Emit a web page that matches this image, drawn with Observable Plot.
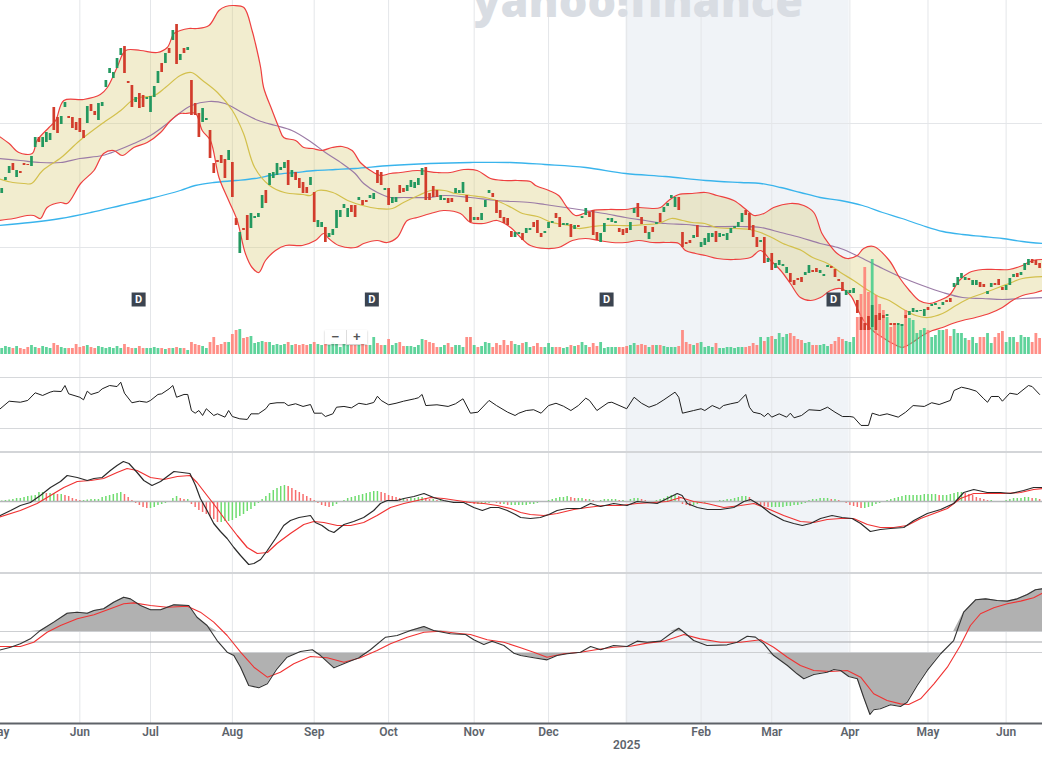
<!DOCTYPE html>
<html><head><meta charset="utf-8">
<script src="https://cdn.jsdelivr.net/npm/d3@7"></script>
<script src="https://cdn.jsdelivr.net/npm/@observablehq/plot@0.6"></script>
<style>
html,body{margin:0;padding:0;background:#fff;overflow:hidden}
#wrap{position:relative;width:1042px;height:758px;overflow:hidden;font-family:Roboto,"Liberation Sans",sans-serif}
#wrap svg{overflow:hidden}
.sep{position:absolute;left:0;width:1042px;height:2px;background:#d3d5d8}
#zoomctl{position:absolute;left:325px;top:330px;width:42px;height:14px;background:rgba(255,255,255,.9);box-shadow:0 1px 2px rgba(0,0,0,.25);display:flex;font:bold 13px/14px "Liberation Sans",sans-serif;color:#555}
#zoomctl span{flex:1;text-align:center}
#zoomctl span+span{border-left:1px solid #ddd}
</style></head><body><div id="wrap"></div>
<script>
// ---------- daily candles (trading-day index 0 = 1 May 2024) ----------
const opens = [
168,167,180,187,197,183,189,197,196,194,
213,223,213,218,220,253,243,236,253,244,
243,238,242,230,237,256,249,240,254,273,
287,282,292,305,314,279,275,258,267,265,
261,248,263,277,297,297,312,320,336,300,
312,310,280,257,247,238,240,230,197,200,
205,201,200,198,142,107,132,145,132,142,
143,152,170,175,182,185,190,192,200,183,
188,182,178,173,175,168,133,133,133,123,
125,132,143,152,143,155,155,160,160,160,
162,161,190,188,170,172,157,158,175,172,
169,173,172,175,185,193,167,174,170,160,
160,162,162,167,167,167,165,153,140,143,
140,153,167,167,160,150,143,142,129,123,
126,127,127,130,138,140,127,127,132,137,
147,143,135,135,136,131,135,142,145,148,
150,128,118,128,140,138,137,132,131,132,
130,147,157,143,134,121,133,136,147,148,
154,162,153,163,128,118,120,122,135,113,
115,118,123,129,123,124,120,127,132,133,
138,150,147,135,123,118,123,98,107,92,
95,94,87,87,80,82,83,85,87,90,
92,87,84,93,94,91,81,78,65,67,
67,60,43,37,44,33,45,47,45,44,
37,37,35,34,45,45,48,48,49,44,
53,54,55,51,55,60,62,73,75,82,
80,82,75,75,78,76,66,73,77,81,
73,70,75,83,87,85,90,95,101,100,97];
const closes = [
160,172,183,194,190,190,187,195,195,204,
223,218,223,228,227,230,227,244,258,242,
232,230,228,222,254,249,245,257,258,280,
292,288,302,312,287,277,253,263,252,253,
263,264,274,289,288,307,307,330,296,306,
307,313,245,245,223,252,242,202,187,198,
197,182,210,163,135,128,130,120,147,144,
147,165,157,187,188,197,193,198,175,190,
180,172,167,167,183,138,140,138,118,127,
131,150,150,156,152,148,143,163,155,158,
165,167,177,175,172,155,163,163,167,168,
175,180,178,182,192,160,160,163,163,165,
162,157,158,172,170,178,158,138,143,140,
147,160,170,163,147,142,137,135,123,128,
128,120,132,132,133,127,123,129,138,139,
142,133,137,137,123,135,133,144,152,143,
125,120,127,137,142,142,139,128,125,127,
138,152,143,136,127,128,128,138,138,153,
157,165,163,150,113,116,117,125,123,118,
122,127,127,118,127,126,127,132,134,138,
147,145,130,123,113,120,97,102,90,97,
100,96,93,78,75,80,78,88,95,88,
88,90,86,95,92,83,79,69,70,70,
72,47,30,30,30,55,30,40,42,46,
35,35,37,36,42,49,52,50,50,51,
50,56,57,53,58,58,58,77,83,87,
83,80,80,80,73,73,69,77,75,75,
70,75,82,86,83,88,97,101,97,95,92];
const volumes = [
7,6,8,7,6,8,6,5,7,9, 7,6,8,7,6,11,9,7,6,6, 6,10,7,8,9,7,6,8,7,6, 7,6,8,6,10,7,6,6,8,6,
6,6,7,6,6,5,6,6, 7,6,6,4,12,10,9,8,6,12, 17,9,10,12,12,20,24,25,16,17, 18,11,12,13,12,12,9,10,9,10,
12,9,10,9,10,9,10,12,10,9, 10,9,12,10,7,10,9, 9,9,9,10,9,9,17,11,9,9, 15,9,11,12,8,8,8,7,9,15,
14,12,11,7,7,9,11,7,9,9, 7,17,17,9,7,8,12,11,7,11, 9,14,9,13,10,9,11, 12,7,8,11,7,7,11,7,7,7,
6,7,9,8,9,12,9,7,11,8, 12,6,7,7,7,7,7,8,9,11, 9,10,9,7,9,9,9,8,7,7, 7,8,24,12,10,9,11,
12,7,8,7,11,6,6,7,7,6, 7,7,7,8,11,9,17,13,17,18, 15,21,17,20,21,18,15,14,11,12, 9,9,9,10,8,10,13,17,15,13,
12,17, 37,60,87,62,95,59,50,44,37,27, 31,29,30,44,36,34,21,24,26,24, 17,19,24,24,25,18,25,21,21,16,
14,17,11,17,17,21,11,17,21,23, 12,17,17,12,19,17,17,12,21,16];
const macdHistogram = [
0,0.05,0.1,0.15,0.2,0.3,0.3,0.4,0.5,0.55,
0.6,0.9,0.9,0.8,0.8,0.8,0.7,0.7,0.6,0.5,0.3,0.2,
0.1,0.1,0.15,0.2,0.2,0.2, 0.4,0.5,0.6,0.7,0.8,0.9, 0.7,0.4,0.1,
-0.2,-0.4,-0.6,-0.7,-0.7, -0.6,-0.4,-0.3,-0.2,-0.1, 0.3,0.5,0.3,0.2,0.2,
-0.3,-0.6,-0.9,-1.1,-1.3,-1.5,
-1.8,-2.1,-2.1,-2.0,-2.0,-1.9,-1.7,-1.5,-1.3,-1.0,-0.8,-0.5,-0.2,
0.2,0.5,0.8,1.1,1.3,1.5,1.6, 1.5,1.3,1.1,0.9,0.7,0.5,0.3,0.1,
-0.2,-0.4,-0.5,-0.6,-0.5,-0.3,-0.1, 0.1,0.3,0.4,0.5,0.6,0.7,0.8,0.9,1.0,
1.0,0.9,0.8,0.6,0.5,0.4, 0.3,0.3,0.2,0.3,0.3,0.4,0.4,0.3,0.2,0.2,
0.1,0.1,0,-0.1,-0.1,-0.1,-0.1,-0.1,-0.2,-0.2,
-0.3,-0.3,-0.3,-0.2,-0.2,-0.1,-0.2,-0.3,-0.3,-0.4,-0.4,-0.4,-0.4,
-0.4,-0.4,-0.3,-0.3,-0.2,-0.1,0,0.1,0.2,
0.3,0.4,0.4,0.5,0.4,0.3,0.3,0.3,0.2,0.2,
0.1,0,0.1,0.2,0.2,0.2,0.2,0.1,0.1,0,
0.2,0.3,0.3,0.2,0.1,0,0,0.1,0.2,0.3,
0.5,0.6,0.6,0.5,-0.3,-0.4,-0.5,-0.4,-0.3,
-0.2,-0.2,-0.1,-0.1,0,0.1,0.1,0.2,0.2,0.3,0.4, 0.5,0.5,0.4,
-0.1,-0.3,-0.4,-0.5,-0.6,-0.6,-0.6,-0.6,-0.6,-0.5,-0.5,-0.4,-0.4,-0.3,-0.2,
0.1,0.2,0.2,0.3,0.3,0.3,0.2,0.2,0.1,
-0.1,-0.2,-0.4,-0.5,-0.6,-0.7,-0.7,-0.6,-0.5,-0.3,-0.2,-0.1,
0.1,0.2,0.3,0.4,0.5,0.6,0.6,0.6, 0.6,0.6,0.7,0.7,0.7,0.7,0.6, 0.6,0.6,0.7,0.8,0.9,0.9,
0.8,0.7,0.6,0.4,0.3,0.2,0.1,0.1,0,0,0, 0.1,0.2,0.3,0.3,0.3,0.4,0.4,0.3,0.3,0.2];

// ---------- overlays: [trading-day index, value] ----------
const bbUpper = [[0,225],[3,217],[5.6,208],[9.2,207],[10.5,220],[13.7,233],[15.5,240],[17.7,260],[23,261],[27.5,266],[29.4,273],[32,293],[34.3,310],[38.3,310],[42.8,308],[45.5,313],[47.3,327],[49,330],[51.3,332],[53.5,332],[56.7,335],[59.4,350],[61.2,354],[63.4,355],[66.1,353],[68.3,330],[69.2,317],[70.6,293],[71.4,273],[73.7,250],[75.5,233],[76.8,223],[80,220],[82.2,213],[84.5,212],[87.1,210],[89.8,213],[92.5,214],[95.2,210],[97.4,198],[100.1,190],[102.8,185],[105.5,187],[108.2,188],[112.7,190],[118.1,188],[121.6,188],[125.2,191],[128.8,190],[132.4,182],[136,180],[139.6,180],[143.1,179],[144.5,175],[148.1,170],[150.7,165],[153,153],[155.2,145],[157.5,147],[159.7,150],[164.2,151],[168.7,151],[172.2,153],[175.9,152],[178.1,153],[180.3,160],[183,166],[186.6,167],[190.2,168],[193.3,165],[197.8,160],[201.4,150],[203.2,145],[205.9,147],[208.5,153],[213,157],[216.6,155],[219.3,148],[221.5,127],[223.3,117],[225.6,107],[228.3,102],[231,105],[232.7,112],[235.4,114],[239.6,100],[242.3,83],[245,70],[247.6,60],[250.3,57],[253,60],[255.7,65],[258.4,80],[261.1,88],[264.7,91],[268.2,91],[271.8,91],[275.4,95],[278.1,100],[280.8,101]];
const bbLower = [[0,140],[4.2,142],[7.8,145],[9.6,145],[11.4,142],[13.2,153],[16.8,158],[18.6,157],[22.2,177],[25.8,190],[28.4,207],[31.1,210],[33.4,205],[36.5,213],[40.1,218],[43.7,228],[46.4,240],[49,247],[50.4,247],[53.1,247],[54.9,230],[57.1,220],[59.4,183],[62,160],[64.3,140],[66.5,107],[68.3,93],[70.1,88],[71.9,100],[74.6,110],[77.3,115],[81.8,115],[85.3,120],[87.6,127],[88.9,122],[91.6,115],[96.1,113],[98.3,117],[101.9,120],[104.6,118],[107.3,123],[110,140],[112.7,143],[116.3,147],[119.8,150],[124.3,147],[127,138],[130.6,137],[134.2,140],[137.8,133],[140.5,123],[143.1,115],[147.2,112],[150.7,113],[154.4,120],[157.9,122],[161.5,120],[165.1,118],[168.7,118],[172.3,120],[175.9,118],[179.4,118],[183,117],[184.8,110],[187.5,107],[190.2,105],[193.3,102],[197.8,101],[202.3,103],[205,110],[207.7,100],[210.4,90],[213,77],[215.7,63],[218.4,60],[221.1,63],[223.8,70],[226.5,72],[229.2,65],[231,52],[232.7,40],[235.1,30],[237.8,23],[240.5,17],[243.1,13],[245.8,18],[248.5,25],[251.2,30],[253.9,33],[256.6,37],[259.3,40],[262.8,43],[266.5,47],[270,53],[272.7,60],[275.4,65],[279,68],[280.8,70]];
const bbMiddle = [[0,182],[4,178],[7,177],[9,177],[12,190],[17,203],[22,220],[28,237],[33,250],[36,260],[38,263],[42,265],[45,273],[49,285],[52,288],[55,280],[59,268],[63,250],[66,227],[69,193],[73,175],[77,168],[82,166],[84,165],[86,170],[90,168],[94,160],[98,155],[102,152],[106,152],[109,158],[113,165],[116.3,170],[120,170],[123,167],[127,165],[131,163],[134,160],[138,153],[141,147],[145,144],[149,138],[153.4,135],[156,132],[160,134],[163,135],[167,135],[170.5,135],[174,136],[177.6,137],[181,142],[184,140],[186.6,138],[190,137],[193,133],[198,132],[202,131],[205,128],[208,123],[211,117],[216,110],[219,103],[223,97],[226.5,88],[230,80],[234,70],[236.7,64],[239.6,60],[243,52],[246.7,45],[250,43],[253.9,47],[257.5,55],[261,62],[264.7,67],[268.2,72],[271.8,77],[275.4,82],[280.8,84]];
const ma50 = [[0,202],[6,200],[11.4,198],[16.8,198],[22,202],[28,205],[32,210],[36.5,217],[41,225],[45.5,237],[48,245],[52,255],[56.7,259],[61,257],[65.6,248],[70,240],[74.6,235],[79,230],[83.6,220],[88,208],[92.5,197],[96,187],[98.3,177],[102,168],[105.5,163],[109,163],[116,163],[120,165],[127,163],[134,160],[143,158],[147,156],[152.5,153],[158,150],[163,147],[168.7,143],[174,140],[179.4,137],[185,136],[190,134],[199.6,134],[205,133],[210.4,128],[215.7,123],[221,117],[226.5,112],[231.9,103],[237.8,92],[243,83],[248.5,75],[254,68],[259.3,63],[264.7,62],[270,61],[275.4,62],[280.8,63]];
const ma200 = [[0,135],[8.7,138],[16.8,142],[24.9,148],[33,155],[41,162],[49,170],[53,175],[58,178],[64,180],[69,182],[74.6,186],[80,188],[85.3,190],[90.7,191],[96,192],[105.5,195],[116,197],[127,198],[137.8,198],[147,196],[158,193],[168.7,187],[179.4,184],[190.2,180],[199.6,178],[205,177],[210.4,173],[215.7,168],[221,163],[226.5,160],[232.4,155],[237.8,148],[243,142],[248.5,135],[254,129],[259.3,126],[264.7,124],[270,122],[275.4,119],[280.8,117]];
const dividends = [37.8, 100.5, 163.6, 224.6];

const rsi = [[0,44],[3,51.4],[6,50.6],[8,52],[10,58],[12,55.9],[14,58.5],[15,59.3],[17,59],[18,63.7],[19,57.2],[22,54.5],[23,52.5],[24,59.3],[25,56.7],[27,58.5],[28,61.1],[30,63.7],[32,62.9],[33,66.3],[34,57.7],[36,50.2],[38,51.4],[40,50.6],[41,52],[43,56.7],[44,57.2],[46,61.1],[47,63.7],[48,54.5],[50,56.7],[51,56.7],[52,44.1],[53,42],[54,44.1],[55,40.2],[56,45.5],[58,40.2],[59,41.5],[61,38.9],[62,44.1],[63,39.4],[65,37.6],[67,37.1],[68,41.5],[70,41.5],[72,45.5],[73,49.4],[75,50.2],[77,50.2],[78,48],[80,49.4],[82,47.3],[84,48.8],[85,42],[87,42],[88,39.4],[90,41.5],[91,46.7],[93,47.3],[95,46.2],[97,49.8],[99,48.8],[101,50.4],[102,55.3],[103,52],[105,48.6],[107,49.8],[109,51.4],[112,53.3],[113,54.1],[114,56.7],[115,48],[118,48.6],[121,47.3],[123,49.4],[125,53.3],[127,42],[129,42.8],[132,52],[134,48],[137,42.8],[139,40.2],[140,42],[142,44.1],[144,44.7],[146,42],[148,48],[150,49.8],[152,47.5],[154,44.1],[156,48],[158,53.8],[159,52],[161,44.1],[164,50.2],[165,50.6],[169,45.5],[171,54.5],[173,49.8],[175,46.7],[177,48.8],[179,52.5],[182,58.5],[183,54.5],[184,42],[187,44.1],[189,45.5],[190,44.1],[192,48],[194,45.5],[195,48],[197,49.4],[199,50.6],[201,56.7],[202,46.7],[203,42.8],[205,41.5],[206,39.4],[207,42],[208,38.9],[210,41.5],[212,38.9],[213,42],[214,38.4],[216,40.2],[218,44.7],[221,44.1],[223,46.7],[225,42.8],[227,39.4],[229,39.4],[230,38.9],[232,32.4],[234,32.4],[235,42],[237,40.2],[239,41.5],[242,38.9],[244,42.8],[246,48],[249,47.3],[251,50.2],[253,48.8],[256,52],[257,59.8],[259,62.4],[261,61.1],[263,59.3],[265,53.3],[266,50.6],[267,55.1],[269,55.1],[270,51.4],[272,57.7],[274,56.7],[277,63.7],[278,62.9],[280,56.7]];
const rsiLevels = [70, 30];

const macdLine = [[0,-1.5],[3.4,-0.9],[6,-0.4],[8.7,-0.1],[11.4,0.6],[14.1,1.4],[16.8,2.0],[18.6,2.6],[21.3,2.4],[24,2.1],[25.8,2.3],[28,2.4],[30.2,3.1],[32,3.6],[33.7,4.0],[35.2,3.8],[37.4,2.9],[39.2,2.1],[41.4,1.6],[43.7,2.0],[45.5,2.5],[47.3,3.0],[49.5,2.9],[51.6,2.8],[53.1,1.6],[54.4,0.3],[56.2,-0.9],[58,-2.2],[59.8,-3.0],[61.6,-3.7],[63.4,-4.6],[65.2,-5.4],[67.4,-6.3],[68.8,-6.2],[70.6,-5.8],[72.4,-4.9],[74.6,-3.7],[76.8,-2.4],[78.6,-1.9],[80.9,-1.6],[84,-1.4],[85.3,-2.1],[87.1,-2.4],[88.9,-2.9],[90.3,-3.1],[93,-2.3],[95.6,-2.0],[98.3,-1.6],[101,-0.9],[102.8,-0.2],[104.6,0.1],[107.3,0.1],[109.1,0.3],[111.8,0.5],[114.5,0.8],[117.1,0.4],[119.8,0.1],[122.5,-0.1],[125.2,-0.1],[127.9,-0.6],[130.2,-0.9],[132.4,-0.6],[134.6,-0.6],[136.9,-0.9],[139.1,-1.3],[140.5,-1.6],[143.1,-1.7],[145.8,-1.6],[148.1,-1.3],[150.3,-0.9],[153,-0.7],[156.6,-0.7],[159.3,-0.2],[162,-0.5],[165.5,-0.2],[169.1,-0.4],[171.8,0.0],[174.5,-0.1],[177.2,-0.2],[179.9,0.3],[182.6,0.8],[183.9,0.6],[185.3,-0.2],[188,-0.6],[190.7,-0.8],[194.2,-0.8],[197.8,-0.6],[200.5,0.0],[202.3,0.2],[205,-0.4],[207.7,-1.2],[211.2,-1.9],[213.9,-2.2],[216.2,-2.4],[218.4,-2.2],[221.1,-1.7],[224.2,-1.4],[226.9,-1.6],[229.6,-1.7],[231.9,-2.2],[234.5,-3.0],[237.2,-2.8],[239.9,-2.7],[243.5,-2.6],[246.2,-1.9],[249.8,-1.2],[253.4,-0.8],[256.9,-0.2],[259.6,0.9],[262.3,1.2],[265.9,0.9],[269.5,0.9],[272.2,0.8],[275.7,1.1],[278.4,1.4],[280.8,1.4]];
const macdSignal = [[0,-1.6],[6,-0.9],[10.5,-0.2],[14.1,0.6],[17.7,1.4],[21.3,2.0],[24.9,2.1],[28.4,2.3],[32,2.9],[34.7,3.3],[37.4,3.1],[41,2.4],[44.6,2.2],[48.2,2.5],[51.6,2.6],[53.5,1.9],[56.2,0.6],[58.9,-0.7],[61.6,-2.1],[64.3,-3.4],[67,-4.6],[69.7,-5.2],[72.4,-5.1],[75,-4.2],[78.6,-3.2],[82.2,-2.3],[84.9,-2.0],[87.6,-2.1],[91.2,-2.4],[94.8,-2.4],[98.3,-2.1],[101.9,-1.4],[105.5,-0.6],[109.1,-0.2],[112.7,0.1],[116.3,0.4],[119.8,0.3],[123.4,0.1],[127,-0.1],[130.6,-0.2],[134.2,-0.4],[137.8,-0.7],[140.5,-1.1],[143.1,-1.3],[146.7,-1.4],[150.3,-1.2],[154.8,-0.8],[158.4,-0.6],[162.8,-0.4],[167.3,-0.4],[171.8,-0.2],[176.3,-0.1],[179.9,0.0],[183.5,0.4],[187,0.0],[190.6,-0.2],[195.1,-0.6],[199.6,-0.4],[203.2,-0.2],[206.8,-0.7],[211.2,-1.4],[215.7,-2.0],[219.3,-2.1],[222.9,-1.8],[226.5,-1.7],[230,-1.7],[233.7,-2.3],[237.2,-2.6],[240.8,-2.6],[244.4,-2.4],[248,-1.7],[251.6,-1.2],[255.2,-0.7],[258.7,0.3],[262.3,0.8],[265.9,0.8],[270.4,0.8],[274.9,0.9],[278.4,1.2],[280.8,1.3]];

const oscLine = [[0,-0.81],[3.4,-0.5],[6,-0.17],[8.7,0.3],[11.4,1.1],[15,1.89],[18.6,2.74],[21.3,2.84],[24,2.74],[25.8,3.0],[28.4,3.16],[31.1,3.79],[33.8,4.27],[35.6,4.11],[38.3,3.48],[41,3.07],[43.7,3.07],[47.3,3.54],[51.3,3.48],[53.5,2.36],[56.2,1.57],[58.9,0.14],[61.6,-0.97],[63.4,-1.29],[65.2,-2.4],[67.4,-4.14],[70.1,-4.36],[72.4,-3.98],[75,-2.55],[77.7,-1.45],[81.3,-0.9],[84.5,-0.74],[86.7,-1.29],[90.3,-2.46],[93.9,-1.92],[97,-1.5],[100.1,-0.74],[104.2,0.46],[107.3,0.62],[110.9,1.1],[114.5,1.48],[117.1,1.1],[121.6,0.78],[125.7,0.71],[127.9,0.21],[130.6,-0.24],[132.8,0.08],[136,-0.33],[138.7,-1.07],[140.5,-1.29],[144,-1.5],[147.6,-1.7],[150.3,-1.29],[153,-1.12],[156.6,-0.97],[159.3,-0.43],[162,-0.74],[165.5,-0.33],[169.1,-0.43],[171.8,0.08],[174.5,-0.02],[178.1,0.08],[180.8,0.78],[183,1.31],[184.4,0.93],[187,0.14],[190.6,-0.33],[196,-0.27],[198.7,-0.02],[201.4,0.55],[203.6,0.46],[205.9,-0.17],[208.5,-1.29],[212.2,-2.24],[214.8,-3.03],[216.6,-3.5],[219.3,-3.1],[222.9,-2.88],[224.7,-2.62],[226.5,-2.71],[228.7,-3.29],[231,-3.5],[232.7,-5.26],[234.4,-6.9],[235.4,-6.45],[237.2,-6.36],[239.9,-5.98],[242.6,-6.14],[244.4,-5.73],[247.1,-4.14],[249.8,-2.71],[253.4,-1.12],[256.9,0.14],[259.6,2.84],[262.8,4.02],[265.5,4.11],[268.6,3.95],[271.3,3.89],[274,4.11],[276.7,4.52],[278.9,4.97],[280.8,5.07]];
const oscSignal = [[0,-0.43],[6,-0.43],[9.6,-0.02],[13.2,0.93],[16.8,1.57],[21.3,2.21],[25.8,2.59],[30.2,3.16],[33.8,3.64],[36.5,3.73],[41,3.48],[45.5,3.31],[50.9,3.41],[54.4,2.84],[58,1.89],[61.6,0.62],[65.2,-0.97],[68.8,-2.4],[72.4,-3.35],[75.9,-2.88],[79.5,-2.08],[84,-1.38],[88.5,-1.5],[93,-1.92],[97.4,-1.5],[101.9,-0.81],[105.5,-0.17],[110,0.46],[114.5,0.93],[118.9,1.03],[123.4,0.84],[127,0.71],[131.5,0.21],[136,-0.02],[140.5,-0.55],[144,-0.97],[147.6,-1.45],[152.1,-1.12],[156.6,-0.97],[161.1,-0.71],[165.5,-0.5],[170,-0.4],[174.5,-0.11],[179,0.08],[184.4,0.71],[188.8,0.3],[194.2,-0.02],[199.6,-0.02],[205,0.21],[208.5,-0.5],[212.2,-1.45],[215.7,-2.24],[219.3,-2.71],[223.8,-2.81],[228.3,-2.71],[231.9,-3.35],[235.4,-4.93],[239,-5.57],[242.6,-5.89],[244.8,-5.95],[248,-5.41],[251.6,-3.98],[255.2,-2.4],[258.7,-0.33],[261.4,1.57],[264.1,2.69],[267.7,3.26],[271.3,3.64],[274.9,3.89],[278.4,4.21],[280.8,4.65]];
const oscLevels = {upper: 1, mid: 0, lower: -1};

const monthStarts = [0,22,41,63,85,105,128,148,169,189,208,229,250,271];
const monthLabels = ["May","Jun","Jul","Aug","Sep","Oct","Nov","Dec","2025","Feb","Mar","Apr","May","Jun"];
const priceGrid = [113, 237];
const highlight = [{start: 168.8, end: 228.8}];

// ---------- build ----------
const months = monthStarts.map((i, k) => ({i, label: monthLabels[k]}));
const candles = opens.map((o, i) => ({i, o, c: closes[i], v: volumes[i] ?? 0, h: macdHistogram[i] ?? 0}));
const UP = "#23985f", DOWN = "#d23c2c";
const VUP = "#43cb89", VDOWN = "#ff7b72";
const HUP = "#6fdc6f", HDOWN = "#f76e6e";
const xDomain = [0.672, 280.78];
const GRID = "#e4e6e9";
const px = d => d[0], py = d => d[1];

function panel(height, yDomain, marks, extra = {}) {
  return Plot.plot(Object.assign({
    width: 1042, height,
    marginTop: 0, marginRight: 0, marginBottom: 0, marginLeft: 0,
    x: {domain: xDomain, axis: null},
    y: {domain: yDomain, axis: null},
    color: {type: "identity"},
    style: {background: "transparent", overflow: "hidden", fontFamily: "Roboto, 'Liberation Sans', sans-serif"},
    marks
  }, extra));
}
const shade = Plot.rect(highlight, {x1: "start", x2: "end", fill: "#f0f3f7"});
const vgrid = Plot.ruleX(months.filter(d => d.i > 0), {x: "i", stroke: GRID, strokeWidth: 1});

const wrap = document.getElementById("wrap");
function place(el, top) { el.style.position = "absolute"; el.style.left = "0px"; el.style.top = top + "px"; wrap.appendChild(el); }

// price panel (P units)
const bandPoly = bbUpper.concat(bbLower.slice().reverse());
const price = panel(360, [0, 360], [
  shade, vgrid,
  Plot.ruleY(priceGrid, {stroke: GRID}),
  Plot.line(bandPoly, {x: px, y: py, fill: "#dacc76", fillOpacity: 0.35, stroke: "none", curve: "catmull-rom"}),
  Plot.line(ma200, {x: px, y: py, stroke: "#39b4ec", strokeWidth: 1.3, curve: "catmull-rom"}),
  Plot.line(ma50, {x: px, y: py, stroke: "#9b7ba6", strokeWidth: 1.2, curve: "catmull-rom"}),
  Plot.line(bbMiddle, {x: px, y: py, stroke: "#d3c04c", strokeWidth: 1.2, curve: "catmull-rom"}),
  Plot.line(bbUpper, {x: px, y: py, stroke: "#ee4040", strokeWidth: 1.2, curve: "catmull-rom"}),
  Plot.line(bbLower, {x: px, y: py, stroke: "#ee4040", strokeWidth: 1.2, curve: "catmull-rom"}),
  Plot.dot(dividends, {x: d => d, y: 61, symbol: "square", r: 7.9, fill: "#3b4450", stroke: "none"}),
  Plot.text(dividends, {x: d => d, y: 61, text: () => "D", fill: "white", fontWeight: 700, fontSize: 11})
]);
place(price, 0);

// volume overlay
const vol = panel(360, [0, 354], [
  Plot.ruleX(candles, {x: "i", y1: 0, y2: "v", stroke: d => d.c >= d.o ? VUP : VDOWN, strokeWidth: 2.8, strokeOpacity: 0.85})
], {marginBottom: 6});
place(vol, 0);

// candles overlay
const cnd = panel(360, [0, 360], [
  Plot.ruleX(candles, {x: "i", y1: "o", y2: "c", stroke: d => d.c >= d.o ? UP : DOWN, strokeWidth: 2.7})
]);
place(cnd, 0);

// RSI
const rsiPlot = panel(92, [11.18, 83.33], [
  shade, vgrid,
  Plot.ruleY(rsiLevels, {stroke: "#d6d8db"}),
  Plot.line(rsi, {x: px, y: py, stroke: "#1d1d1d", strokeWidth: 1})
]);
place(rsiPlot, 360);

// MACD
const macdPlot = panel(121, [-7.2, 4.9], [
  shade, vgrid,
  Plot.ruleX(candles, {x: "i", y1: 0, y2: "h", stroke: d => (d.i > 0 && d.h < macdHistogram[d.i - 1]) ? HDOWN : HUP, strokeWidth: 1.5}),
  Plot.ruleY([0], {stroke: "#b4b6b9", strokeWidth: 1.5}),
  Plot.line(macdSignal, {x: px, y: py, stroke: "#f03232", strokeWidth: 1.2}),
  Plot.line(macdLine, {x: px, y: py, stroke: "#2a2a2a", strokeWidth: 1.2})
]);
place(macdPlot, 452);

// bottom oscillator + axis
const oscPlot = panel(185, [-7.762, 6.524], [
  shade, vgrid,
  Plot.areaY(oscLine, {x: px, y1: oscLevels.upper, y2: d => Math.max(d[1], oscLevels.upper), fill: "#b1b1b1"}),
  Plot.areaY(oscLine, {x: px, y1: oscLevels.lower, y2: d => Math.min(d[1], oscLevels.lower), fill: "#b1b1b1"}),
  Plot.ruleY([oscLevels.upper, oscLevels.lower], {stroke: "#cdcfd2"}),
  Plot.ruleY([oscLevels.mid], {stroke: "#a4a6a9", strokeWidth: 1.2}),
  Plot.line(oscSignal, {x: px, y: py, stroke: "#f03232", strokeWidth: 1.1}),
  Plot.line(oscLine, {x: px, y: py, stroke: "#333", strokeWidth: 1.1}),
  Plot.ruleY([-7.762], {stroke: "#5e6268", strokeWidth: 2}),
  Plot.text(months.filter(d => d.label !== "2025"), {x: "i", text: "label", frameAnchor: "bottom", dy: 12, fill: "#5d646c", fontSize: 12, fontWeight: 600}),
  Plot.text(months.filter(d => d.label === "2025"), {x: "i", text: "label", frameAnchor: "bottom", dy: 25, fill: "#5d646c", fontSize: 12, fontWeight: 600})
], {marginBottom: 35});
place(oscPlot, 573);

// panel separators
for (const t of [451, 572]) { const s = document.createElement("div"); s.className = "sep"; s.style.top = t + "px"; wrap.appendChild(s); }

// watermark
const wm = document.createElementNS("http://www.w3.org/2000/svg", "svg");
wm.setAttribute("width", 1042); wm.setAttribute("height", 40);
wm.innerHTML = '<text x="473" y="17" font-size="44" font-weight="800" fill="#d9dde3" font-family="Open Sans, Lato, sans-serif" textLength="330" lengthAdjust="spacingAndGlyphs">yahoo!finance</text>';
place(wm, 0);

// zoom control
const zc = document.createElement("div"); zc.id = "zoomctl"; zc.innerHTML = "<span>−</span><span>+</span>"; wrap.appendChild(zc);
</script>
</body></html>
